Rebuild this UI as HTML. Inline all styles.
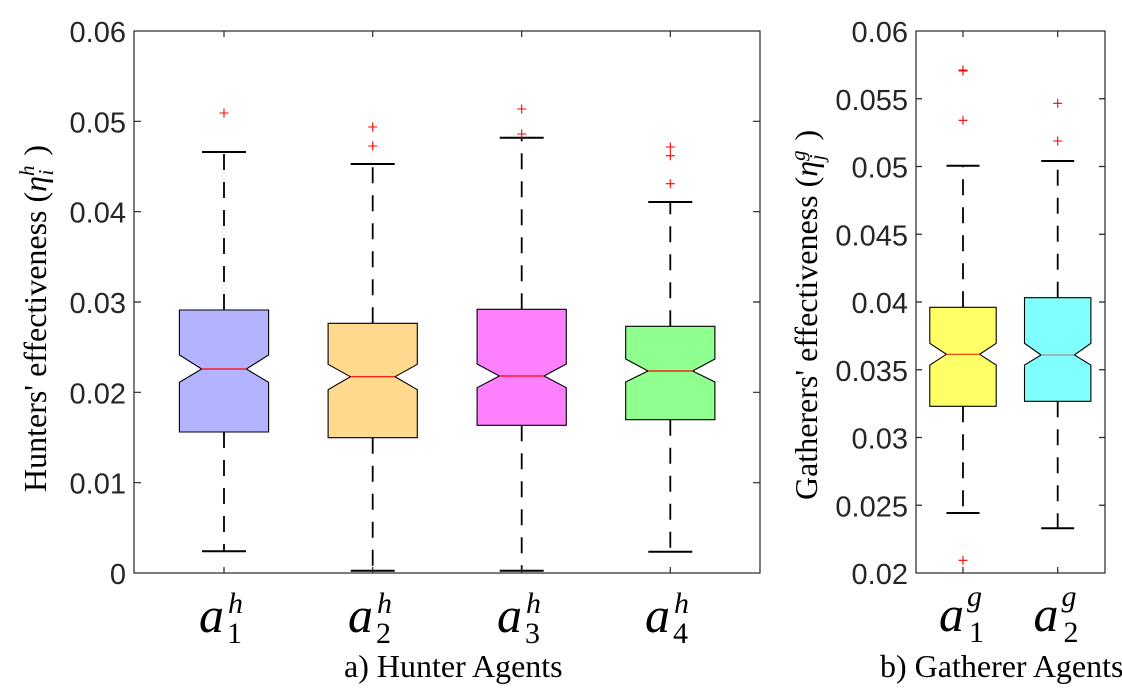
<!DOCTYPE html>
<html>
<head>
<meta charset="utf-8">
<style>
  html,body{margin:0;padding:0;background:#fff;}
  svg{display:block;}
</style>
</head>
<body>
<svg width="1122" height="693" viewBox="0 0 1122 693" xmlns="http://www.w3.org/2000/svg">
<rect width="1122" height="693" fill="#fff"/>

<!-- ================= LEFT PANEL ================= -->
<!-- boxes -->
<g stroke="#000" stroke-width="1.1">
  <polygon fill="#b3b3ff" points="179.4,432 179.4,382.3 201.7,369 179.4,355 179.4,310 268.6,310 268.6,355 246.3,369 268.6,382.3 268.6,432"/>
  <polygon fill="#ffd98e" points="328.1,437.7 328.1,389.7 350.4,376.7 328.1,364.3 328.1,323.3 417.3,323.3 417.3,364.3 395,376.7 417.3,389.7 417.3,437.7"/>
  <polygon fill="#ff80ff" points="477.1,425.3 477.1,387.7 499.4,376 477.1,364 477.1,309.3 566.3,309.3 566.3,364 544,376 566.3,387.7 566.3,425.3"/>
  <polygon fill="#8fff8f" points="625.7,419.7 625.7,382 648,371 625.7,359 625.7,326.3 714.9,326.3 714.9,359 692.6,371 714.9,382 714.9,419.7"/>
</g>
<!-- medians -->
<g stroke="#ff0000" stroke-width="1.2">
  <line x1="201.7" y1="369" x2="246.3" y2="369"/>
  <line x1="350.4" y1="376.7" x2="395" y2="376.7"/>
  <line x1="499.4" y1="376" x2="544" y2="376"/>
  <line x1="648" y1="371" x2="692.6" y2="371"/>
</g>
<!-- whiskers -->
<g stroke="#000" stroke-width="1.8" stroke-dasharray="16 12" fill="none">
  <line x1="224" y1="310" x2="224" y2="152"/>
  <line x1="224" y1="432" x2="224" y2="551.3"/>
  <line x1="372.7" y1="323.3" x2="372.7" y2="164"/>
  <line x1="372.7" y1="437.7" x2="372.7" y2="570.7"/>
  <line x1="521.7" y1="309.3" x2="521.7" y2="137.7"/>
  <line x1="521.7" y1="425.3" x2="521.7" y2="570.7"/>
  <line x1="670.3" y1="326.3" x2="670.3" y2="202"/>
  <line x1="670.3" y1="419.7" x2="670.3" y2="551.7"/>
</g>
<!-- caps -->
<g stroke="#000" stroke-width="2">
  <line x1="202" y1="152" x2="246" y2="152"/>
  <line x1="202" y1="551.3" x2="246" y2="551.3"/>
  <line x1="350.7" y1="164" x2="394.7" y2="164"/>
  <line x1="350.7" y1="570.7" x2="394.7" y2="570.7"/>
  <line x1="499.7" y1="137.7" x2="543.7" y2="137.7"/>
  <line x1="499.7" y1="570.7" x2="543.7" y2="570.7"/>
  <line x1="648.3" y1="202" x2="692.3" y2="202"/>
  <line x1="648.3" y1="551.7" x2="692.3" y2="551.7"/>
</g>
<!-- outliers -->
<g stroke="#ff0000" stroke-width="1.1" fill="none">
  <path d="M219.5 113h9M224 108.5v9"/>
  <path d="M368.2 127h9M372.7 122.5v9"/>
  <path d="M368.2 146h9M372.7 141.5v9"/>
  <path d="M517.2 109h9M521.7 104.5v9"/>
  <path d="M517.2 134h9M521.7 129.5v9"/>
  <path d="M665.8 147h9M670.3 142.5v9"/>
  <path d="M665.8 155.7h9M670.3 151.2v9"/>
  <path d="M665.8 183.7h9M670.3 179.2v9"/>
</g>
<!-- axes -->
<g stroke="#262626" stroke-width="1.2" fill="none">
  <rect x="134" y="31" width="626" height="542"/>
  <path d="M134 482.7h7M134 392.3h7M134 302h7M134 211.7h7M134 121.3h7"/>
  <path d="M760 482.7h-7M760 392.3h-7M760 302h-7M760 211.7h-7M760 121.3h-7"/>
  <path d="M224 31v6M372.7 31v6M521.7 31v6M670.3 31v6"/>
  <path d="M224 573v-6M372.7 573v-6M521.7 573v-6M670.3 573v-6"/>
</g>
<!-- y tick labels -->
<g font-family="Liberation Sans, Arial, sans-serif" font-size="29" fill="#262626" text-anchor="end">
  <text x="126" y="584">0</text>
  <text x="126" y="493.7">0.01</text>
  <text x="126" y="403.3">0.02</text>
  <text x="126" y="313">0.03</text>
  <text x="126" y="222.7">0.04</text>
  <text x="126" y="132.3">0.05</text>
  <text x="126" y="42">0.06</text>
</g>
<!-- y label -->
<text transform="translate(46,492) rotate(-90)" font-family="Liberation Serif, Times New Roman, serif" font-size="32" fill="#000">Hunters' effectiveness (<tspan font-style="italic">η</tspan><tspan font-style="italic" font-size="21" dy="-12">h</tspan><tspan font-style="italic" font-size="21" dx="-10" dy="19">i</tspan><tspan dy="-7" dx="6"> )</tspan></text>

<!-- x tick labels -->
<g font-family="Liberation Serif, Times New Roman, serif" fill="#000">
  <text x="199" y="632" font-size="50" font-style="italic">a</text>
  <text x="227" y="643" font-size="30">1</text>
  <text x="228" y="613" font-size="30" font-style="italic">h</text>

  <text x="348" y="632" font-size="50" font-style="italic">a</text>
  <text x="376" y="643" font-size="30">2</text>
  <text x="377" y="613" font-size="30" font-style="italic">h</text>

  <text x="497" y="632" font-size="50" font-style="italic">a</text>
  <text x="525" y="643" font-size="30">3</text>
  <text x="526" y="613" font-size="30" font-style="italic">h</text>

  <text x="645" y="632" font-size="50" font-style="italic">a</text>
  <text x="673" y="643" font-size="30">4</text>
  <text x="674" y="613" font-size="30" font-style="italic">h</text>
</g>
<text x="344" y="677" font-family="Liberation Serif, Times New Roman, serif" font-size="32" fill="#000">a) Hunter Agents</text>

<!-- ================= RIGHT PANEL ================= -->
<g stroke="#000" stroke-width="1.1">
  <polygon fill="#ffff66" points="929.8,406.3 929.8,365 946.4,354.3 929.8,343.3 929.8,307.3 996.2,307.3 996.2,343.3 979.6,354.3 996.2,365 996.2,406.3"/>
  <polygon fill="#80ffff" points="1024.5,401.3 1024.5,365 1041.1,355 1024.5,343.3 1024.5,297.7 1090.9,297.7 1090.9,343.3 1074.3,355 1090.9,365 1090.9,401.3"/>
</g>
<line x1="946.4" y1="354.3" x2="979.6" y2="354.3" stroke="#ee3300" stroke-width="1.2"/>
<line x1="1041.1" y1="355" x2="1074.3" y2="355" stroke="#a0a0a0" stroke-width="1.4"/>
<g stroke="#000" stroke-width="1.8" stroke-dasharray="16 12" fill="none">
  <line x1="963" y1="307.3" x2="963" y2="165.7"/>
  <line x1="963" y1="406.3" x2="963" y2="513"/>
  <line x1="1057.7" y1="297.7" x2="1057.7" y2="161"/>
  <line x1="1057.7" y1="401.3" x2="1057.7" y2="528.3"/>
</g>
<g stroke="#000" stroke-width="2">
  <line x1="946.5" y1="165.7" x2="979.5" y2="165.7"/>
  <line x1="946.5" y1="513" x2="979.5" y2="513"/>
  <line x1="1041.2" y1="161" x2="1074.2" y2="161"/>
  <line x1="1041.2" y1="528.3" x2="1074.2" y2="528.3"/>
</g>
<g stroke="#ff0000" stroke-width="1.1" fill="none">
  <path d="M958.5 71h9M963 66.5v9"/>
  <path d="M958.5 70h9M963 65.5v9"/>
  <path d="M958.5 120.3h9M963 115.8v9"/>
  <path d="M958.5 560.3h9M963 555.8v9"/>
  <path d="M1053.2 103.3h9M1057.7 98.8v9"/>
  <path d="M1053.2 141h9M1057.7 136.5v9"/>
</g>
<g stroke="#262626" stroke-width="1.2" fill="none">
  <rect x="916" y="31" width="189" height="542"/>
  <path d="M916 505.25h6M916 437.5h6M916 369.75h6M916 302h6M916 234.25h6M916 166.5h6M916 98.75h6"/>
  <path d="M1105 505.25h-6M1105 437.5h-6M1105 369.75h-6M1105 302h-6M1105 234.25h-6M1105 166.5h-6M1105 98.75h-6"/>
  <path d="M963 31v6M1057.7 31v6M963 573v-6M1057.7 573v-6"/>
</g>
<g font-family="Liberation Sans, Arial, sans-serif" font-size="29" fill="#262626" text-anchor="end">
  <text x="908" y="584">0.02</text>
  <text x="908" y="516.25">0.025</text>
  <text x="908" y="448.5">0.03</text>
  <text x="908" y="380.75">0.035</text>
  <text x="908" y="313">0.04</text>
  <text x="908" y="245.25">0.045</text>
  <text x="908" y="177.5">0.05</text>
  <text x="908" y="109.75">0.055</text>
  <text x="908" y="42">0.06</text>
</g>
<text transform="translate(817,500) rotate(-90)" font-family="Liberation Serif, Times New Roman, serif" font-size="32" fill="#000">Gatherers' effectiveness (<tspan font-style="italic">η</tspan><tspan font-style="italic" font-size="21" dy="-12">g</tspan><tspan font-style="italic" font-size="21" dx="-10" dy="19">j</tspan><tspan dy="-7" dx="6"> )</tspan></text>

<g font-family="Liberation Serif, Times New Roman, serif" fill="#000">
  <text x="939" y="631" font-size="50" font-style="italic">a</text>
  <text x="969" y="642" font-size="30">1</text>
  <text x="967" y="606" font-size="30" font-style="italic">g</text>

  <text x="1033.5" y="631" font-size="50" font-style="italic">a</text>
  <text x="1063.5" y="642" font-size="30">2</text>
  <text x="1061.5" y="606" font-size="30" font-style="italic">g</text>
</g>
<text x="880" y="677" font-family="Liberation Serif, Times New Roman, serif" font-size="32" fill="#000">b) Gatherer Agents</text>
</svg>
</body>
</html>
